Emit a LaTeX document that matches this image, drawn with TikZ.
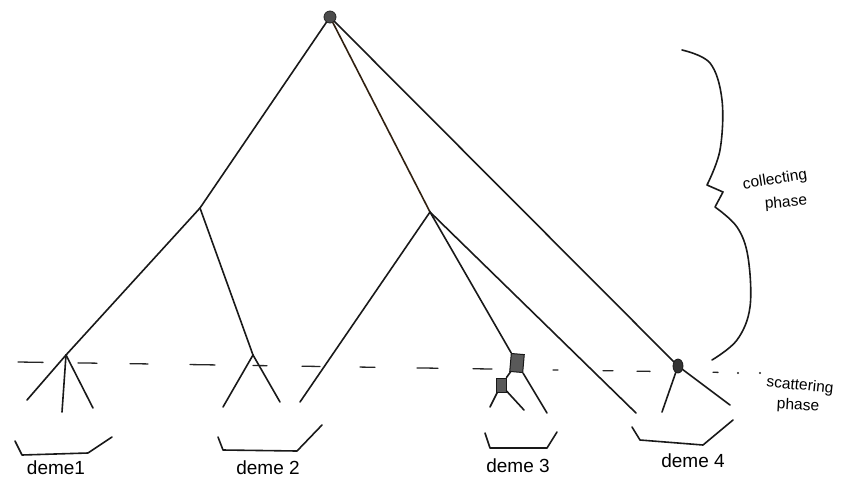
\documentclass[tikz,border=0pt]{standalone}
\usepackage{fontspec}
\setmainfont{Liberation Sans}
\usetikzlibrary{shapes.geometric}
\begin{document}
\begin{tikzpicture}[x=1pt,y=-1pt,
  ink/.style={draw=black!90, line width=1.6pt, line cap=round, line join=round},
  dot/.style={circle, draw=black!85, fill=black!70, line width=0.8pt, inner sep=0pt, minimum size=12pt},
  dotfour/.style={ellipse, draw=black!90, fill=black!80, line width=0.8pt, inner sep=0pt, minimum width=10pt, minimum height=14pt},
  sqbig/.style={rectangle, draw=black!90, fill=black!65, line width=1pt, inner sep=0pt, minimum width=13pt, minimum height=18pt, rotate=-5},
  sqsmall/.style={rectangle, draw=black!90, fill=black!65, line width=1pt, inner sep=0pt, minimum width=10pt, minimum height=14pt},
  lbl/.style={font=\fontsize{19}{22}\selectfont, inner sep=0pt},
  phaselbl/.style={font=\fontsize{15.5}{17}\selectfont, inner sep=0pt},
  dashseg/.style={draw=black!85, line width=1.3pt, line cap=round}
]
\useasboundingbox (0,0) rectangle (843,491);
\fill[white] (0,0) rectangle (843,491);

% ---- dashed separating line ----
\foreach \xa/\xb in {18/43, 78/97, 130/148, 190/215, 253/267, 302/320, 360/375, 417/438, 473/492, 553/558, 603/613, 637/650, 713/718}{
  \draw[dashseg] (\xa,{362+0.0148*(\xa-18)}) -- (\xb,{362+0.0148*(\xb-18)});
}
\fill[black!85] (738,373) circle (1.2pt);
\fill[black!85] (760,373) circle (1.2pt);

% ---- tree nodes ----
\node[dot] (root) at (330,17) {};
\coordinate (A) at (200,208);
\coordinate (B) at (430,212);
\coordinate (d1) at (66,355);
\coordinate (d2) at (253,355);
\node[sqbig] (s1) at (517,363) {};
\node[sqsmall] (s2) at (501,385) {};
\node[dotfour] (n4) at (678,366) {};

% leaves
\coordinate (l1a) at (27,400);
\coordinate (l1b) at (62,412);
\coordinate (l1c) at (93,408);
\coordinate (l2a) at (223,407);
\coordinate (l2b) at (280,402);
\coordinate (lB) at (300,402);
\coordinate (l3a) at (490,407);
\coordinate (l3b) at (524,410);
\coordinate (l3c) at (547,413);
\coordinate (l4a) at (636,413);
\coordinate (l4b) at (662,412);
\coordinate (l4c) at (730,405);

% ---- connectors ----
\draw[ink] (root) -- (A);
\draw[ink] (A) -- (d1);
\draw[ink] (A) -- (d2);
\draw[ink, draw=black!75!brown] (root) -- (B);
\draw[ink] (B) -- (lB);
\draw[ink] (B) -- (s1);
\draw[ink] (B) -- (l4a);
\draw[ink] (root) -- (n4);
\draw[ink] (d1) -- (l1a);
\draw[ink] (d1) -- (l1b);
\draw[ink] (d1) -- (l1c);
\draw[ink] (d2) -- (l2a);
\draw[ink] (d2) -- (l2b);
\draw[ink] (s1) -- (l3c);
\draw[ink] (s1) -- (s2);
\draw[ink] (s2) -- (l3a);
\draw[ink] (s2) -- (l3b);
\draw[ink] (n4) -- (l4b);
\draw[ink] (n4) -- (l4c);

% ---- deme brackets ----
\draw[ink] (15,441) -- (22,455) -- (88,453) -- (112,437);
\draw[ink] (218,437) -- (223,450) -- (297,451) -- (322,425);
\draw[ink] (485,433) -- (490,448) -- (547,448) -- (557,432);
\draw[ink] (632,427) -- (640,440) -- (703,445) -- (733,420);

% ---- deme labels ----
\node[lbl] (t1) at (56,468) {deme1};
\node[lbl] (t2) at (268,468) {deme 2};
\node[lbl] (t3) at (518,466) {deme 3};
\node[lbl] (t4) at (693,461) {deme 4};

% ---- brace for collecting phase ----
\draw[ink] plot[smooth, tension=0.6] coordinates {(682,50) (710,63) (722,100) (720,150) (707,185)}
  -- (723,192) -- plot[smooth, tension=0.6] coordinates {(715,207) (737,227) (748,257) (750,307) (737,340) (712,360)};

% ---- phase labels ----
\node[phaselbl, rotate=9] (collect1) at (775,180) {collecting};
\node[phaselbl, rotate=5] (collect2) at (786,203) {phase};
\node[phaselbl, rotate=-6] (scatter1) at (800,386) {scattering};
\node[phaselbl, rotate=-3] (scatter2) at (798,406) {phase};
\end{tikzpicture}
\end{document}
